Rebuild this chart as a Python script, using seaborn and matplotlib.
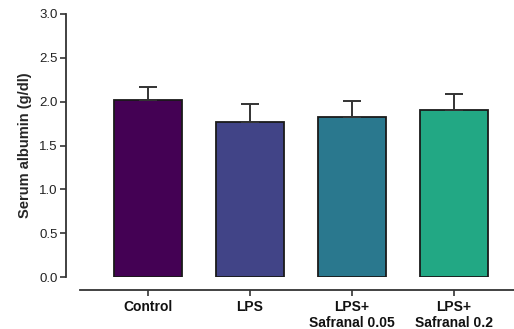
import matplotlib
matplotlib.use("Agg")
import matplotlib.pyplot as plt
import seaborn as sns
import pandas as pd

groups = ["Control", "LPS", "LPS+\nSafranal 0.05", "LPS+\nSafranal 0.2"]
means = [2.02, 1.77, 1.83, 1.91]
errs = [0.15, 0.20, 0.18, 0.18]
colors = ["#440154", "#414487", "#2A788E", "#22A884"]
yticks = [0.0, 0.5, 1.0, 1.5, 2.0, 2.5, 3.0]

sns.set_style("ticks")
plt.rcParams["font.family"] = ["Liberation Sans", "DejaVu Sans"]

df = pd.DataFrame({"group": groups, "value": means})

fig = plt.figure(figsize=(5.14, 3.29), dpi=100)
ax = fig.add_axes([66/514, 52/329, 448/514, 263/329])
sns.barplot(data=df, x="group", y="value", hue="group", palette=colors,
            order=groups, hue_order=groups, legend=False, errorbar=None,
            saturation=1, width=0.667, edgecolor="#1a1a1a", linewidth=1.3, ax=ax)
ax.errorbar(range(len(groups)), means, yerr=[[0]*len(errs), errs], fmt="none",
            ecolor="#333333", elinewidth=1.4, capsize=6.2, capthick=1.4, zorder=1)

sns.despine(ax=ax)
ax.spines["bottom"].set_position(("outward", 9.4))
ax.spines["bottom"].set_bounds(-0.667, 3.59)
for s in ["left", "bottom"]:
    ax.spines[s].set_linewidth(1.3)
    ax.spines[s].set_color("#333333")

ax.set_ylim(0, 3.0)
ax.set_xlim(-0.804, 3.59)
ax.set_yticks(yticks)
ax.set_yticklabels([f"{v:.1f}" for v in yticks], fontsize=9.5, color="#222222")
ax.set_xticks(range(len(groups)))
ax.set_xticklabels(groups, fontsize=10, fontweight="bold", color="#111111", linespacing=1.1)
ax.set_xlabel("")
ax.set_ylabel("Serum albumin (g/dl)", fontsize=10.5, fontweight="bold", labelpad=5)

ax.tick_params(axis="both", length=4, width=1.2, color="#333333", pad=2)
ax.tick_params(axis="x", pad=3.5)

fig.savefig("out.png", dpi=100)
